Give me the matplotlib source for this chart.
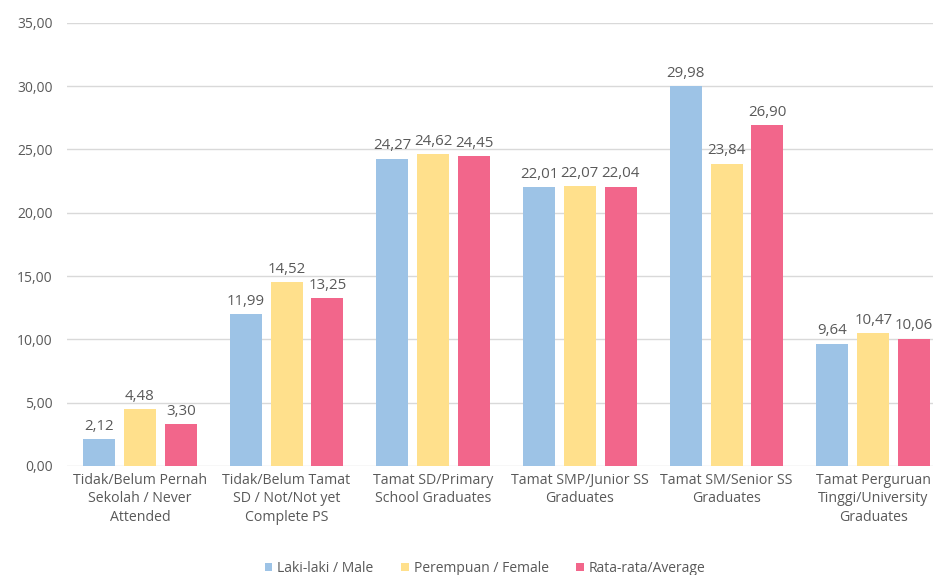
import numpy as np
import matplotlib
matplotlib.use("Agg")
import matplotlib.pyplot as plt

categories = [
    "Tidak/Belum Pernah\nSekolah / Never\nAttended",
    "Tidak/Belum Tamat\nSD / Not/Not yet\nComplete PS",
    "Tamat SD/Primary\nSchool Graduates",
    "Tamat SMP/Junior SS\nGraduates",
    "Tamat SM/Senior SS\nGraduates",
    "Tamat Perguruan\nTinggi/University\nGraduates",
]
male = [2.12, 11.99, 24.27, 22.01, 29.98, 9.64]
female = [4.48, 14.52, 24.62, 22.07, 23.84, 10.47]
average = [3.30, 13.25, 24.45, 22.04, 26.90, 10.06]
series_names = ["Laki-laki / Male", "Perempuan / Female", "Rata-rata/Average"]
y_ticks = [0, 5, 10, 15, 20, 25, 30, 35]

COLORS = ["#9DC3E6", "#FFE08C", "#F2668B"]
TXT = "#595959"

plt.rcParams["font.family"] = ["Open Sans", "DejaVu Sans"]

fig = plt.figure(figsize=(9.33, 5.75), dpi=100)
# plot area runs past the right edge, as in the cropped original
ax = fig.add_axes([0.0713, 0.1896, 0.9432, 0.7709])

x = np.arange(len(categories))
width = 0.218
step = 0.279
for k, (vals, name, col) in enumerate(zip([male, female, average], series_names, COLORS)):
    pos = x + (k - 1) * step
    ax.bar(pos, vals, width=width, color=col, label=name, zorder=2)
    for p, v in zip(pos, vals):
        ax.annotate(f"{v:.2f}".replace(".", ","), (p, v), xytext=(0, 4),
                    textcoords="offset points", ha="center", va="bottom",
                    fontsize=10.8, color=TXT)

ax.set_xlim(-0.5, len(categories) - 0.5)
ax.set_ylim(0, 35)
ax.set_yticks(y_ticks)
ax.set_yticklabels([f"{t:.2f}".replace(".", ",") for t in y_ticks], fontsize=10, color=TXT)
ax.set_xticks(x)
ax.set_xticklabels(categories, fontsize=10.2, color=TXT, linespacing=1.3)
ax.tick_params(axis="both", length=0)
ax.tick_params(axis="y", pad=10)
ax.tick_params(axis="x", pad=5)
ax.grid(axis="y", color="#D9D9D9", lw=1, zorder=0)
for s in ax.spines.values():
    s.set_visible(False)

leg = fig.legend(loc="center", bbox_to_anchor=(0.52, 0.012), ncol=3, frameon=False,
                 fontsize=10, handlelength=0.55, handleheight=0.55, handletextpad=0.35,
                 columnspacing=2.0)
for t in leg.get_texts():
    t.set_color(TXT)

fig.savefig("out.png", dpi=100)
